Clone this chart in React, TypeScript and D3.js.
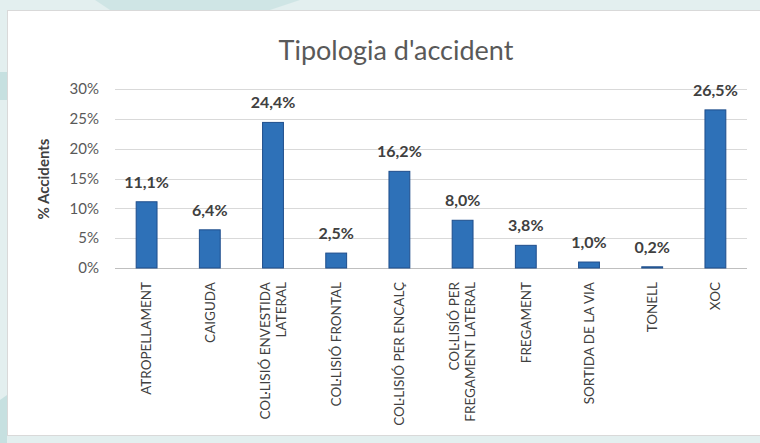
import React from "react";
import * as d3 from "d3";

const categories: string[][] = [
  ["ATROPELLAMENT"],
  ["CAIGUDA"],
  ["COL·LISIÓ ENVESTIDA", "LATERAL"],
  ["COL·LISIÓ FRONTAL"],
  ["COL·LISIÓ PER ENCALÇ"],
  ["COL·LISIÓ PER", "FREGAMENT LATERAL"],
  ["FREGAMENT"],
  ["SORTIDA DE LA VIA"],
  ["TONELL"],
  ["XOC"],
];
const values: number[] = [11.1, 6.4, 24.4, 2.5, 16.2, 8.0, 3.8, 1.0, 0.2, 26.5];
const yTicks: number[] = [0, 5, 10, 15, 20, 25, 30];
const title = "Tipologia d'accident";
const yTitle = "% Accidents";

const W = 760;
const H = 443;
const FONT = "Lato, 'Open Sans', sans-serif";

export default function App() {
  const keys = categories.map((c) => c.join(" "));
  const x = d3
    .scaleBand<string>()
    .domain(keys)
    .range([115, 747])
    .paddingInner(0.67)
    .paddingOuter(0.335);
  const y = d3.scaleLinear().domain([0, 30]).range([268, 89]);
  const fmt = (v: number) => v.toFixed(1).replace(".", ",") + "%";

  return (
    <svg
      width={W}
      height={H}
      style={{ position: "absolute", left: 0, top: 0 }}
      fontFamily={FONT}
    >
      {/* outer background */}
      <rect x={0} y={0} width={W} height={H} fill="#e3efef" />
      <polygon points="95,0 300,0 270,10 110,10" fill="#cfe5e5" />
      <polygon points="0,72 7,72 7,100 0,100" fill="#c6e0e0" />
      <polygon points="0,400 7,395 7,443 0,443" fill="#c6e0e0" />
      {/* white panel */}
      <rect x={7.5} y={10.5} width={W} height={425} fill="#ffffff" stroke="#d9d9d9" />

      {/* title */}
      <text x={396} y={60} textAnchor="middle" fontSize={27} fill="#595959">
        {title}
      </text>

      {/* gridlines */}
      {yTicks.map((t) => (
        <line
          key={"g" + t}
          x1={115}
          x2={747}
          y1={Math.round(y(t)) + 0.5}
          y2={Math.round(y(t)) + 0.5}
          stroke={t === 0 ? "#bfbfbf" : "#d9d9d9"}
          strokeWidth={1}
        />
      ))}
      {/* y tick labels */}
      {yTicks.map((t) => (
        <text
          key={"t" + t}
          x={99}
          y={y(t)}
          dy="0.35em"
          textAnchor="end"
          fontSize={15}
          fill="#595959"
        >
          {t + "%"}
        </text>
      ))}
      {/* y title */}
      <text
        transform={`translate(49,${179}) rotate(-90)`}
        textAnchor="middle"
        fontSize={15}
        fontWeight="bold"
        fill="#404040"
      >
        {yTitle}
      </text>

      {/* bars */}
      {keys.map((k, i) => (
        <rect
          key={"b" + k}
          x={x(k)!}
          y={y(values[i])}
          width={x.bandwidth()}
          height={y(0) - y(values[i])}
          fill="#2E71B8"
          stroke="#1F4E8C"
          strokeWidth={1}
        />
      ))}
      {/* value labels */}
      {keys.map((k, i) => (
        <text
          key={"v" + k}
          x={x(k)! + x.bandwidth() / 2}
          y={y(values[i]) - 14}
          textAnchor="middle"
          fontSize={16}
          fontWeight="bold"
          fill="#404040"
        >
          {fmt(values[i])}
        </text>
      ))}

      {/* x labels */}
      {categories.map((lines, i) => {
        const cx = x(keys[i])! + x.bandwidth() / 2;
        const lh = 16;
        const n = lines.length;
        return (
          <g key={"x" + i}>
            {lines.map((ln, j) => {
              const lx = cx + (j - (n - 1) / 2) * lh;
              return (
                <text
                  key={j}
                  transform={`translate(${lx},282) rotate(-90)`}
                  textAnchor="end"
                  dy="0.35em"
                  fontSize={13.5}
                  fill="#404040"
                >
                  {ln}
                </text>
              );
            })}
          </g>
        );
      })}
    </svg>
  );
}
